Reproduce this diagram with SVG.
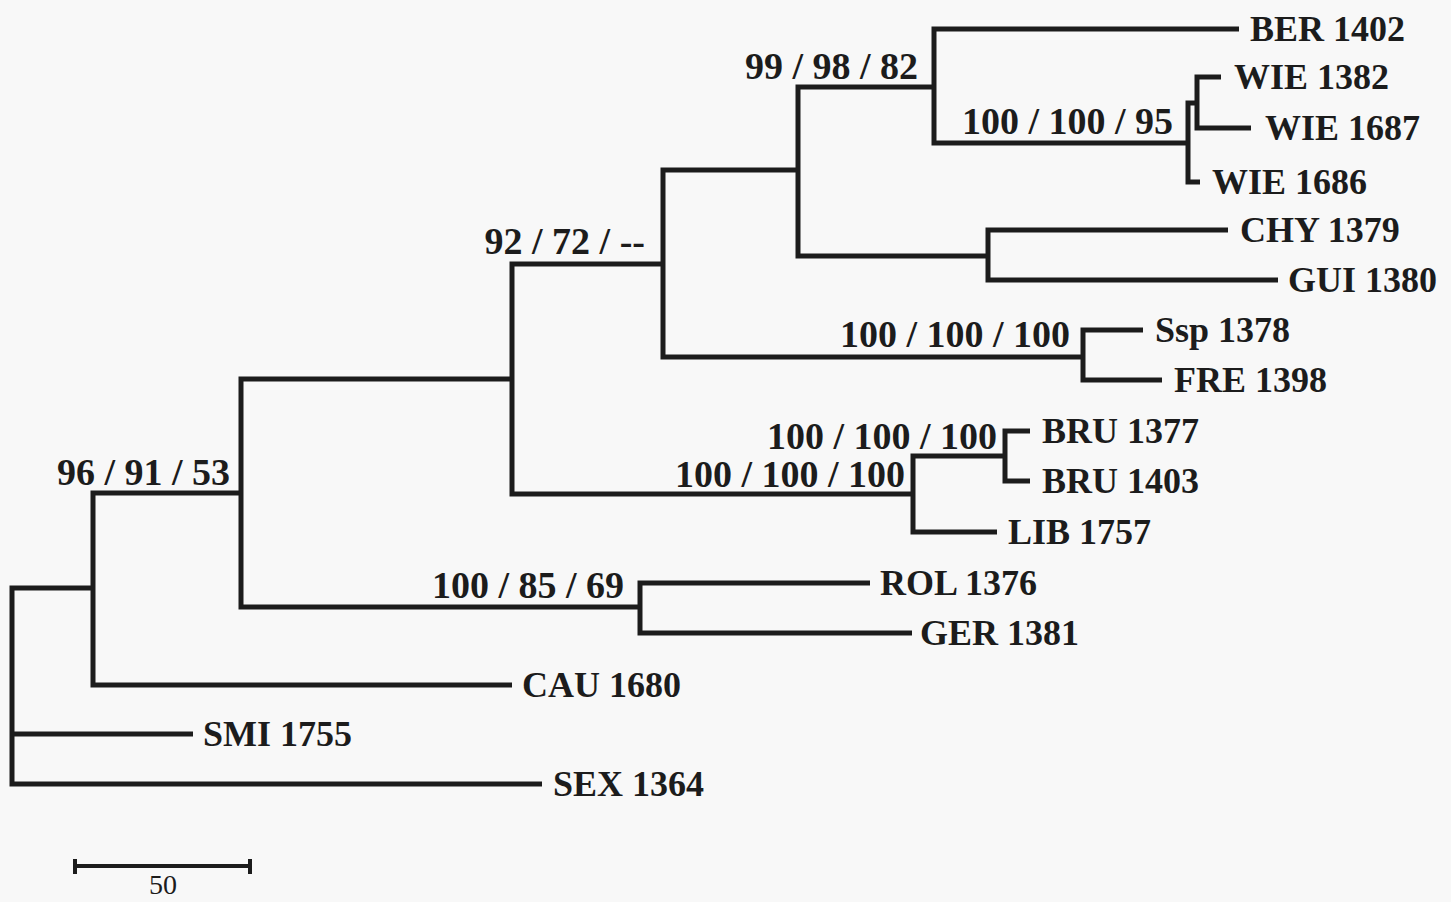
<svg xmlns="http://www.w3.org/2000/svg" width="1451" height="902" viewBox="0 0 1451 902">
<style>
.br{fill:none;stroke:#1c1c1c;stroke-width:5;stroke-linejoin:miter;stroke-linecap:butt}
.tip{font-family:"Liberation Serif","Times New Roman",serif;font-weight:bold;font-size:36px;fill:#1c1c1c}
.sup{font-family:"Liberation Serif","Times New Roman",serif;font-weight:bold;font-size:38px;fill:#1c1c1c;text-anchor:end}
.sc{font-family:"Liberation Serif","Times New Roman",serif;font-size:28px;fill:#1c1c1c;text-anchor:middle}
</style>
<rect width="1451" height="902" fill="#f8f8f8"/>
<g id="connectors">
<path class="br" d="M92 588 H12 V784 H542"/>
<path class="br" d="M12 734 H193"/>
<path class="br" d="M241 493 H93 V685 H512"/>
<path class="br" d="M512 379 H241 V607 H640"/>
<path class="br" d="M870 583 H640 V633 H912"/>
<path class="br" d="M663 264 H512 V494 H913"/>
<path class="br" d="M798 170 H663 V357 H1083"/>
<path class="br" d="M934 87 H798 V256 H988"/>
<path class="br" d="M1239 29 H934 V143 H1188"/>
<path class="br" d="M1197 103 H1188 V182 H1200"/>
<path class="br" d="M1221 77 H1197 V128 H1251"/>
<path class="br" d="M1228 230 H988 V280 H1278"/>
<path class="br" d="M1143 330 H1083 V380 H1162"/>
<path class="br" d="M1005 456 H913 V532 H997"/>
<path class="br" d="M1030 431 H1005 V481 H1030"/>
</g>
<g id="n-99-98-82"><text class="sup" x="918" y="79">99 / 98 / 82</text></g>
<g id="n-100-100-95"><text class="sup" x="1173" y="134">100 / 100 / 95</text></g>
<g id="n-92-72"><text class="sup" x="645" y="254">92 / 72 / --</text></g>
<g id="n-ssp-fre"><text class="sup" x="1070" y="347">100 / 100 / 100</text></g>
<g id="n-bru"><text class="sup" x="997" y="449">100 / 100 / 100</text></g>
<g id="n-bru-lib"><text class="sup" x="905" y="487">100 / 100 / 100</text></g>
<g id="n-96-91-53"><text class="sup" x="230" y="485">96 / 91 / 53</text></g>
<g id="n-100-85-69"><text class="sup" x="624" y="598">100 / 85 / 69</text></g>
<g id="ber1402"><text class="tip" x="1250" y="41">BER 1402</text></g>
<g id="wie1382"><text class="tip" x="1234" y="89">WIE 1382</text></g>
<g id="wie1687"><text class="tip" x="1265" y="140">WIE 1687</text></g>
<g id="wie1686"><text class="tip" x="1212" y="194">WIE 1686</text></g>
<g id="chy1379"><text class="tip" x="1240" y="242">CHY 1379</text></g>
<g id="gui1380"><text class="tip" x="1288" y="292">GUI 1380</text></g>
<g id="ssp1378"><text class="tip" x="1155" y="342">Ssp 1378</text></g>
<g id="fre1398"><text class="tip" x="1174" y="392">FRE 1398</text></g>
<g id="bru1377"><text class="tip" x="1042" y="443">BRU 1377</text></g>
<g id="bru1403"><text class="tip" x="1042" y="493">BRU 1403</text></g>
<g id="lib1757"><text class="tip" x="1008" y="544">LIB 1757</text></g>
<g id="rol1376"><text class="tip" x="880" y="595">ROL 1376</text></g>
<g id="ger1381"><text class="tip" x="920" y="645">GER 1381</text></g>
<g id="cau1680"><text class="tip" x="522" y="697">CAU 1680</text></g>
<g id="smi1755"><text class="tip" x="203" y="746">SMI 1755</text></g>
<g id="sex1364"><text class="tip" x="553" y="796">SEX 1364</text></g>
<g id="scalebar">
<path class="br" style="stroke-width:4" d="M75 866 H250 M75 859 V874 M250 859 V874"/>
<text class="sc" x="163" y="894">50</text>
</g>
</svg>
